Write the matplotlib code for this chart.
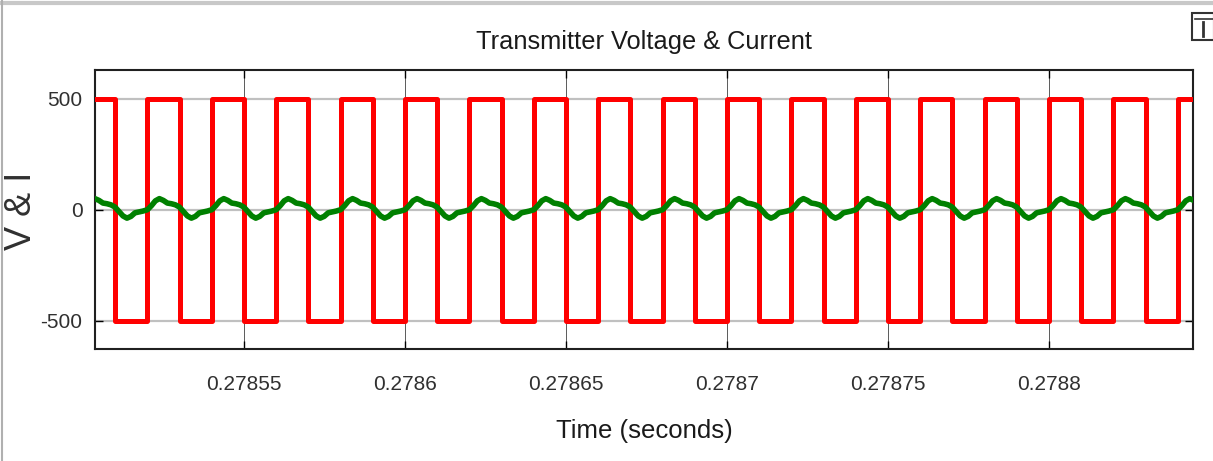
import matplotlib.pyplot as plt
from matplotlib.patches import Rectangle
from matplotlib.lines import Line2D

# switching instants of the transmitter voltage (seconds)
rise_times = [0.27850, 0.27852, 0.27854, 0.27856, 0.27858, 0.27860,
              0.27862, 0.27864, 0.27866, 0.27868, 0.27870, 0.27872,
              0.27874, 0.27876, 0.27878, 0.27880, 0.27882, 0.27884]
fall_times = [0.27851, 0.27853, 0.27855, 0.27857, 0.27859, 0.27861,
              0.27863, 0.27865, 0.27867, 0.27869, 0.27871, 0.27873,
              0.27875, 0.27877, 0.27879, 0.27881, 0.27883]
v_high = 500
v_low = -500

# one period of the current, as fraction of the period after a rising edge
i_phase = [0.0, 0.062, 0.124, 0.186, 0.248, 0.31, 0.373, 0.435, 0.497,
           0.559, 0.621, 0.683, 0.745, 0.807, 0.87, 0.932, 1.0]
i_values = [0, 18, 40, 50, 42, 30, 27, 22, 12, -8, -28, -38, -30, -14,
            -10, -6, 0]

x_ticks = [0.27855, 0.2786, 0.27865, 0.2787, 0.27875, 0.2788]
x_labels = ['0.27855', '0.2786', '0.27865', '0.2787', '0.27875', '0.2788']
y_ticks = [-500, 0, 500]
y_labels = ['-500', '0', '500']

plt.rcParams['font.family'] = ['Liberation Sans', 'DejaVu Sans']

fig = plt.figure(figsize=(12.13, 4.61), dpi=100)
ax = fig.add_axes([95 / 1213, 1 - 349 / 461, 1098 / 1213, 279 / 461])

# voltage as a step trace
edges = sorted([(t, v_high) for t in rise_times] + [(t, v_low) for t in fall_times])
vt = [edges[0][0]]
vv = [edges[0][1]]
for t, level in edges[1:]:
    vt += [t, t]
    vv += [vv[-1], level]
vt.append(0.27890)
vv.append(vv[-1])

# current, placed after every rising edge
period = rise_times[1] - rise_times[0]
it = []
iv = []
for t0 in rise_times:
    for p, val in zip(i_phase, i_values):
        it.append(t0 + p * period)
        iv.append(val)

ax.plot(vt, vv, color='#ff0000', lw=3.6, solid_joinstyle='round', zorder=3)
ax.plot(it, iv, color='#008000', lw=4.0, solid_joinstyle='round',
        solid_capstyle='round', zorder=4)

ax.set_xlim(0.27850373, 0.27884472)
ax.set_ylim(-628, 630)
ax.set_xticks(x_ticks)
ax.set_xticklabels(x_labels)
ax.set_yticks(y_ticks)
ax.set_yticklabels(y_labels)

ax.grid(axis='y', color='#c0c0c0', lw=1.6, zorder=1)
ax.grid(axis='x', color='#404040', lw=0.6, zorder=1)
ax.tick_params(direction='in', top=True, right=True, length=6, width=1,
               labelsize=15, labelcolor='#303030')
ax.tick_params(axis='x', pad=19)
ax.tick_params(axis='y', pad=9)
for s in ax.spines.values():
    s.set_linewidth(1.5)
    s.set_color('#202020')

ax.set_title('Transmitter Voltage & Current', fontsize=18.3, color='#1a1a1a', pad=15)
ax.set_xlabel('Time (seconds)', fontsize=18.5, color='#1a1a1a', labelpad=18)
fig.text(22 / 1213, 1 - 211 / 461, 'V & I', rotation=90, ha='center', va='center',
         fontsize=26, color='#303030')

# window chrome around the plot
fig.add_artist(Line2D([0, 1], [1 - 3 / 461, 1 - 3 / 461], color='#c8c8c8', lw=3))
fig.add_artist(Line2D([2 / 1213, 2 / 1213], [0, 1], color='#b0b0b0', lw=1.5))
fig.add_artist(Rectangle((1192 / 1213, 1 - 40 / 461), 22 / 1213, 27 / 461,
                         fill=False, ec='#333333', lw=1.5))
fig.add_artist(Line2D([1195 / 1213, 1213 / 1213], [1 - 19 / 461, 1 - 19 / 461],
                      color='#333333', lw=1.2))
fig.add_artist(Line2D([1203 / 1213, 1203 / 1213], [1 - 22 / 461, 1 - 36 / 461],
                      color='#333333', lw=2))

fig.savefig('out.png', dpi=100)
